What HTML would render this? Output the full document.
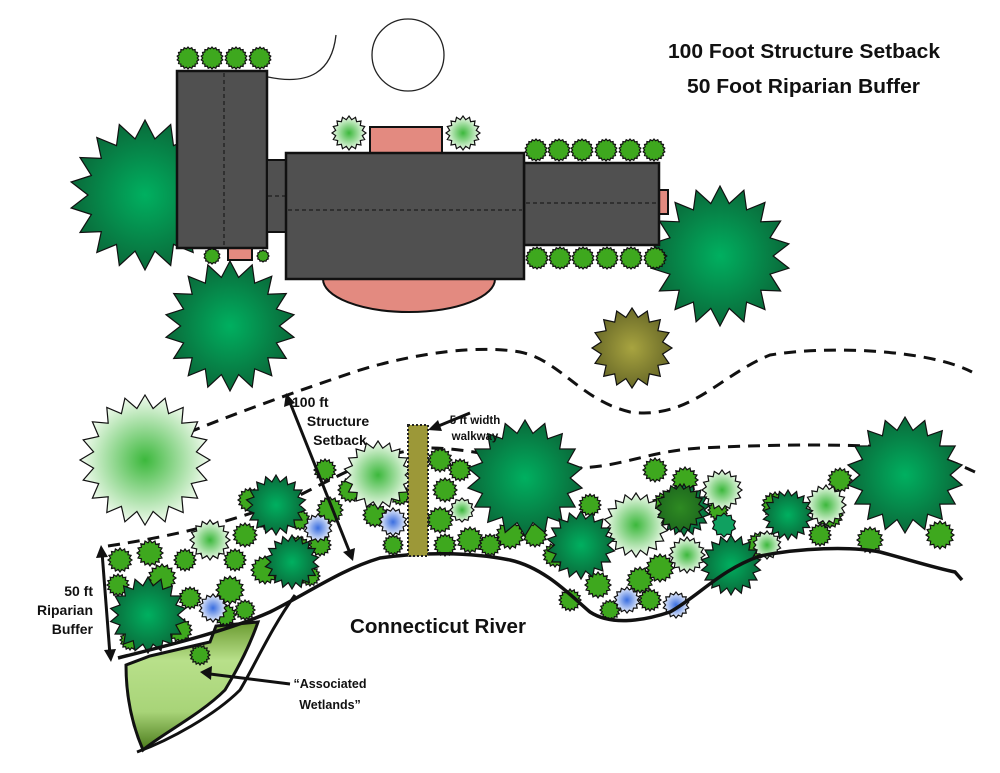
<!DOCTYPE html>
<html><head><meta charset="utf-8"><style>
html,body{margin:0;padding:0;background:#fff}
svg{display:block}
text{font-family:"Liberation Sans",sans-serif;font-weight:bold;fill:#111}
</style></head><body>
<svg id="s" width="1000" height="773" viewBox="0 0 1000 773" xmlns="http://www.w3.org/2000/svg">
<defs>
<radialGradient id="gDark"><stop offset="0" stop-color="#00b060"/><stop offset="1" stop-color="#0a6a3a"/></radialGradient>
<radialGradient id="gLight"><stop offset="0" stop-color="#3cb83c"/><stop offset="1" stop-color="#f2fbef"/></radialGradient>
<radialGradient id="gMid"><stop offset="0" stop-color="#4cba2a"/><stop offset="1" stop-color="#3ea81e"/></radialGradient>
<radialGradient id="gOlive"><stop offset="0" stop-color="#a8a440"/><stop offset="1" stop-color="#6a6a28"/></radialGradient>
<radialGradient id="gBlue"><stop offset="0" stop-color="#3a6ee0"/><stop offset="1" stop-color="#eef2fb"/></radialGradient>
<radialGradient id="gDk2"><stop offset="0" stop-color="#2e8a22"/><stop offset="1" stop-color="#1e6a1e"/></radialGradient>
<linearGradient id="gWet" x1="0" y1="0" x2="0" y2="1"><stop offset="0" stop-color="#6a9a30"/><stop offset="0.3" stop-color="#b8e08a"/><stop offset="0.7" stop-color="#a8d478"/><stop offset="1" stop-color="#4a7a1a"/></linearGradient>
</defs>

<!-- text top -->
<text x="668" y="58" font-size="20" textLength="272" lengthAdjust="spacingAndGlyphs">100 Foot Structure Setback</text>
<text x="687" y="93" font-size="20" textLength="233" lengthAdjust="spacingAndGlyphs">50 Foot Riparian Buffer</text>

<!-- arc & circle -->
<path d="M268,77 Q330,90 336,35" fill="none" stroke="#222" stroke-width="1.3"/>
<circle cx="408" cy="55" r="36" fill="none" stroke="#222" stroke-width="1.3"/>

<g id="trees1"></g>

<!-- house -->
<ellipse cx="409" cy="279" rx="86" ry="33" fill="#e38a80" stroke="#111" stroke-width="2"/>
<rect x="370" y="127" width="72" height="27" fill="#e38a80" stroke="#111" stroke-width="2"/>
<rect x="655" y="190" width="13" height="24" fill="#e38a80" stroke="#111" stroke-width="2"/>
<rect x="228" y="248" width="24" height="12" fill="#e38a80" stroke="#111" stroke-width="2"/>
<rect x="177" y="71" width="90" height="177" fill="#505050" stroke="#111" stroke-width="2.5"/>
<line x1="224" y1="73" x2="224" y2="246" stroke="#111" stroke-dasharray="4,3"/>
<rect x="267" y="160" width="20" height="72" fill="#505050" stroke="#111" stroke-width="2"/>
<rect x="524" y="163" width="135" height="82" fill="#505050" stroke="#111" stroke-width="2.5"/>
<line x1="526" y1="203" x2="657" y2="203" stroke="#111" stroke-dasharray="4,3"/>
<rect x="286" y="153" width="238" height="126" fill="#505050" stroke="#111" stroke-width="2.5"/>
<line x1="288" y1="210" x2="522" y2="210" stroke="#111" stroke-dasharray="4,3"/>
<line x1="268" y1="196" x2="286" y2="196" stroke="#111" stroke-dasharray="4,3"/>

<!-- dashed setback lines -->
<path d="M170,440 C230,415 300,390 360,370 C420,352 480,345 520,352 C560,360 580,400 630,412 C690,420 720,375 770,355 C830,345 930,350 972,372" fill="none" stroke="#111" stroke-width="3" stroke-dasharray="12,8"/>
<path d="M108,546 C180,535 240,520 300,495 C350,470 380,452 430,448 C470,448 520,462 560,468 C620,470 640,452 700,448 C780,444 850,444 900,448 C940,455 960,465 975,472" fill="none" stroke="#111" stroke-width="3" stroke-dasharray="12,8"/>

<!-- wetland -->
<path d="M137,752 C170,740 215,715 240,690 C255,665 270,630 295,595" fill="none" stroke="#111" stroke-width="3"/>
<path d="M126,665 L150,656 L210,642 L216,626 L258,622 C250,645 240,665 225,690 C200,715 160,735 143,750 C130,720 126,690 126,665 Z" fill="url(#gWet)" stroke="#111" stroke-width="3"/>

<g id="shrubs"></g>

<!-- river bank -->
<path d="M118,658 C170,645 230,630 270,612 C310,592 340,570 380,558 C420,552 470,552 510,560 C545,568 570,595 590,612 C610,625 640,622 670,612 C700,595 720,570 760,556 C800,548 850,546 880,552 C910,560 935,568 955,572 L962,580" fill="none" stroke="#111" stroke-width="3.5"/>

<!-- walkway -->
<rect x="408" y="425" width="20" height="131" fill="#9c9838" stroke="#222" stroke-width="2" stroke-dasharray="2,2"/>

<!-- arrows -->
<g stroke="#111" stroke-width="3" fill="#111">
<line x1="102" y1="552" x2="110" y2="655"/>
<line x1="289" y1="400" x2="350" y2="553"/>
<line x1="470" y1="413" x2="436" y2="427"/>
<line x1="290" y1="684" x2="210" y2="674"/>
</g>
<g fill="#111">
<polygon points="101,545 96,558 108,557"/>
<polygon points="111,662 104,650 116,649"/>
<polygon points="286,393 284,407 295,403"/>
<polygon points="353,561 343,552 355,548"/>
<polygon points="428,430 438,420 442,431"/>
<polygon points="200,672 212,666 211,680"/>
</g>

<text x="292" y="407" font-size="14">100 ft</text>
<text x="338" y="426" font-size="14" text-anchor="middle">Structure</text>
<text x="340" y="445" font-size="14" text-anchor="middle">Setback</text>
<text x="475" y="424" font-size="11.5" text-anchor="middle">5 ft width</text>
<text x="475" y="440" font-size="11.5" text-anchor="middle">walkway</text>
<text x="93" y="596" font-size="14" text-anchor="end">50 ft</text>
<text x="93" y="615" font-size="14" text-anchor="end">Riparian</text>
<text x="93" y="634" font-size="14" text-anchor="end">Buffer</text>
<text x="350" y="633" font-size="20" textLength="176" lengthAdjust="spacingAndGlyphs">Connecticut River</text>
<text x="330" y="688" font-size="12.5" text-anchor="middle">“Associated</text>
<text x="330" y="709" font-size="12.5" text-anchor="middle">Wetlands”</text>
</svg>
<script>
function star(g,cx,cy,r,n,fill,ri,sw){
  ri=ri||0.78;var p=[];
  for(var i=0;i<2*n;i++){var a=Math.PI*i/n-Math.PI/2;var rr=i%2?r*ri:r;p.push((cx+rr*Math.cos(a)).toFixed(1)+','+(cy+rr*Math.sin(a)).toFixed(1));}
  var e=document.createElementNS('http://www.w3.org/2000/svg','polygon');
  e.setAttribute('points',p.join(' '));e.setAttribute('fill',fill);e.setAttribute('stroke','#111');e.setAttribute('stroke-width',sw||1.2);
  g.appendChild(e);
}
var t=document.getElementById('trees1');
star(t,145,195,75,18,'url(#gDark)',0.76);
star(t,230,326,65,18,'url(#gDark)',0.76);
star(t,720,256,70,18,'url(#gDark)',0.76);
star(t,632,348,40,16,'url(#gOlive)',0.78);
// shrub rows near house
[188,212,236,260].forEach(function(x){star(t,x,58,11,18,'#3ea81e',0.85)});
[536,559,582,606,630,654].forEach(function(x){star(t,x,150,11,18,'#3ea81e',0.85)});
[537,560,583,607,631,655].forEach(function(x){star(t,x,258,11,18,'#3ea81e',0.85)});
star(t,212,256,8,14,'#3ea81e',0.85);star(t,263,256,6,12,'#3ea81e',0.85);
star(t,349,133,17,16,'url(#gLight)',0.8);star(t,463,133,17,16,'url(#gLight)',0.8);

var s=document.getElementById('shrubs');
var M='#3ea81e';
var mids=[[120,560,12],[118,585,11],[150,553,13],[162,578,14],[185,560,11],[210,545,13],[235,560,11],[245,535,12],[268,520,10],[230,590,14],[265,570,14],[190,598,11],[225,615,11],[245,610,10],[300,520,10],[298,548,12],[320,545,11],[310,576,10],[250,500,12],[330,510,13],[350,490,12],[325,470,11],[375,515,12],[393,545,10],[400,495,10],[390,470,12],[440,460,12],[445,490,12],[440,520,13],[445,545,11],[470,540,13],[490,545,11],[510,535,14],[460,470,11],[535,535,12],[555,555,12],[580,560,13],[598,585,13],[640,580,13],[660,568,14],[650,600,11],[610,610,10],[595,540,11],[665,505,13],[685,480,13],[718,510,10],[760,545,13],[775,505,13],[830,515,13],[840,480,12],[870,540,13],[940,535,14],[655,470,12],[570,600,11],[140,620,11],[130,640,10],[180,630,12],[200,655,10],[820,535,11],[590,505,11]];
mids.forEach(function(a){star(s,a[0],a[1],a[2],16,M,0.8)});
// light
[[145,460,65,20],[378,475,34,18],[210,540,20,16],[636,525,32,18],[722,490,20,16],[826,505,20,16],[767,545,14,14],[687,555,18,16],[462,510,12,12]].forEach(function(a){star(s,a[0],a[1],a[2],a[3],'url(#gLight)',0.8)});
// blue
[[318,528,14],[393,522,14],[213,608,14],[627,600,13],[676,605,13]].forEach(function(a){star(s,a[0],a[1],a[2],14,'url(#gBlue)',0.8)});
// dark trees in buffer
[[276,505,30],[292,562,27],[148,615,38],[525,478,58],[581,545,34],[731,565,30],[684,510,26],[788,515,25],[905,475,58]].forEach(function(a){star(s,a[0],a[1],a[2],18,'url(#gDark)',0.78)});
star(s,680,508,24,16,'url(#gDk2)',0.8);
star(s,724,525,12,10,'#10a060',0.8);
</script>
</body></html>
